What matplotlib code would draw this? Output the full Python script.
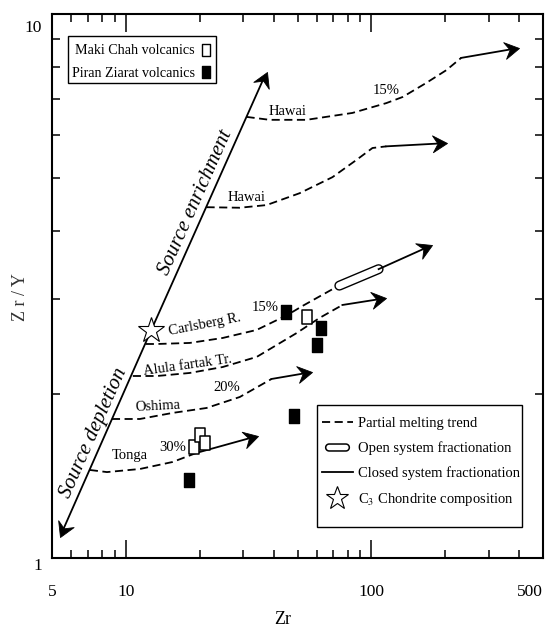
import numpy as np
import matplotlib.pyplot as plt
from matplotlib.lines import Line2D
from matplotlib.markers import MarkerStyle
from matplotlib.patches import Rectangle
from matplotlib.path import Path
from matplotlib.transforms import Affine2D, ScaledTranslation
from matplotlib.ticker import FixedLocator, NullFormatter

plt.rcParams['font.family'] = ['Liberation Serif', 'DejaVu Serif']
plt.rcParams['mathtext.fontset'] = 'stix'

# source line through the C3 chondrite composition
chondrite = (12.7, 2.63)
enrich_end = (37.4, 7.84)
deplete_end = (5.39, 1.094)

# partial melting trends (dashed part), then the arrow tip
hawai_hi_x = [31.0, 38.5, 54.4, 83.7, 115, 134, 167, 202, 232]
hawai_hi_y = [6.48, 6.40, 6.40, 6.59, 6.87, 7.05, 7.48, 7.90, 8.32]
hawai_hi_tip = (400, 8.68)

hawai_lo_x = [21.3, 29.1, 37.4, 51.0, 69.4, 86.9, 101, 115]
hawai_lo_y = [4.42, 4.41, 4.46, 4.69, 5.02, 5.40, 5.68, 5.72]
hawai_lo_tip = (204, 5.80)

carlsberg_x = [12.05, 13.4, 18.2, 24.8, 34.1, 45.5, 52.4, 72.0]
carlsberg_y = [2.476, 2.476, 2.487, 2.540, 2.628, 2.80, 2.909, 3.152]
open_frac = [(74.0, 3.17), (107, 3.40)]
carlsberg_tip = (177, 3.766)

alula_x = [10.67, 13.4, 18.2, 24.8, 34.1, 49.7, 61.4, 76.2]
alula_y = [2.162, 2.162, 2.190, 2.246, 2.344, 2.595, 2.764, 2.921]
alula_tip = (115, 3.008)

oshima_x = [8.77, 11.4, 15.5, 21.3, 29.1, 39.2]
oshima_y = [1.802, 1.802, 1.849, 1.888, 1.978, 2.135]
oshima_tip = (57.5, 2.199)

tonga_x = [7.13, 8.37, 11.4, 15.5, 19.4]
tonga_y = [1.452, 1.439, 1.458, 1.502, 1.561]
tonga_tip = (34.4, 1.677)

# samples
maki_zr = [18.9, 20.0, 20.9, 54.4]
maki_ratio = [1.600, 1.684, 1.628, 2.776]
piran_zr = [44.7, 62.6, 60.3, 48.2, 18.0]
piran_ratio = [2.836, 2.650, 2.466, 1.825, 1.391]

# trend labels: text, Zr, Zr/Y, rotation
trend_labels = [
    ('Hawai', 45.5, 6.62, 0),
    ('15%', 115, 7.26, 0),
    ('Hawai', 31.0, 4.60, 0),
    ('Carlsberg R.', 20.9, 2.684, 11),
    ('15%', 37.1, 2.884, 0),
    ('Alula fartak Tr.', 17.9, 2.265, 8),
    ('Oshima', 13.5, 1.904, 3),
    ('20%', 25.7, 2.055, 0),
    ('Tonga', 10.4, 1.547, 0),
    ('30%', 15.5, 1.600, 0),
]

dash = (0, (4.5, 2.5))
lw = 1.3

# barbed arrow head, tip at the origin pointing along +x
stealth = Path([(0, 0), (-1, 0.58), (-0.65, 0), (-1, -0.58), (0, 0)],
               [Path.MOVETO, Path.LINETO, Path.LINETO, Path.LINETO, Path.CLOSEPOLY])

fig = plt.figure(figsize=(5.48, 6.3), dpi=100)
ax = fig.add_axes([0.0949, 0.1143, 0.896, 0.8627])
ax.set_xscale('log')
ax.set_yscale('log')
ax.set_xlim(5, 500)
ax.set_ylim(1, 10)


def arrow(ax, start, tip):
    p0 = ax.transData.transform(start)
    p1 = ax.transData.transform(tip)
    d = (p1 - p0) / np.hypot(*(p1 - p0))
    ang = np.degrees(np.arctan2(d[1], d[0]))
    back = ax.transData.inverted().transform(p1 - d * 8)
    ax.plot([start[0], back[0]], [start[1], back[1]], color='k', lw=lw)
    head = MarkerStyle(stealth, transform=Affine2D().rotate_deg(ang))
    ax.plot(*tip, marker=head, ms=21, mfc='k', mec='k', mew=0.6, linestyle='none')


# source enrichment / depletion
arrow(ax, chondrite, enrich_end)
arrow(ax, chondrite, deplete_end)
ax.text(19.25, 4.50, 'Source enrichment', rotation=66, rotation_mode='anchor',
        ha='center', va='center', fontsize=15, style='italic')
ax.text(7.41, 1.698, 'Source depletion', rotation=66, rotation_mode='anchor',
        ha='center', va='center', fontsize=15, style='italic')

trends = [
    (hawai_hi_x, hawai_hi_y, hawai_hi_tip),
    (hawai_lo_x, hawai_lo_y, hawai_lo_tip),
    (alula_x, alula_y, alula_tip),
    (oshima_x, oshima_y, oshima_tip),
    (tonga_x, tonga_y, tonga_tip),
]
for tx, ty, tip in trends:
    ax.plot(tx, ty, color='k', lw=lw, linestyle=dash)
    arrow(ax, (tx[-1], ty[-1]), tip)

# Carlsberg trend passes through the open-system field
ax.plot(carlsberg_x, carlsberg_y, color='k', lw=lw, linestyle=dash)
fx, fy = zip(*open_frac)
ax.plot(fx, fy, color='k', lw=7.2, solid_capstyle='round')
ax.plot(fx, fy, color='white', lw=5.2, solid_capstyle='round')
arrow(ax, open_frac[-1], carlsberg_tip)

for text, x, y, rot in trend_labels:
    ax.text(x, y, text, fontsize=10.5, rotation=rot, rotation_mode='anchor',
            ha='center', va='center')

box = Path([(-0.36, -0.5), (0.36, -0.5), (0.36, 0.5), (-0.36, 0.5), (0, 0)],
           [Path.MOVETO, Path.LINETO, Path.LINETO, Path.LINETO, Path.CLOSEPOLY])

ax.plot(piran_zr, piran_ratio, linestyle='none', marker=box, ms=10,
        mfc='k', mec='k', mew=1)
ax.plot(maki_zr, maki_ratio, linestyle='none', marker=box, ms=10,
        mfc='white', mec='k', mew=1.1)
ax.plot(*chondrite, marker='*', ms=19, mfc='white', mec='k', mew=0.8,
        linestyle='none', zorder=5)

# legend frames drawn separately: tight at the sides, roomy top and bottom
for x0, y0, w, h in [(0.0326, 0.874, 0.3014, 0.0864),
                     (0.540, 0.057, 0.417, 0.2245)]:
    ax.add_patch(Rectangle((x0, y0), w, h, transform=ax.transAxes,
                           facecolor='white', edgecolor='k', lw=1.0, zorder=4.5))

# sample legend
sample_handles = [
    Line2D([], [], linestyle='none', marker=box, ms=8.5, mfc='white', mec='k', mew=1),
    Line2D([], [], linestyle='none', marker=box, ms=8.5, mfc='k', mec='k'),
]
leg1 = ax.legend(sample_handles, ['Maki Chah volcanics', 'Piran Ziarat volcanics'],
                 loc='center', bbox_to_anchor=(0.1823, 0.9126), borderaxespad=0,
                 markerfirst=False, handlelength=0.8, handletextpad=0.4,
                 borderpad=0, labelspacing=0.65, fontsize=10.1, frameon=False)
ax.add_artist(leg1)

# symbol legend
t = np.linspace(-np.pi / 2, np.pi / 2, 16)
right = np.column_stack([1.2 + 0.5 * np.cos(t), 0.5 * np.sin(t)])
left = np.column_stack([-1.2 - 0.5 * np.cos(t), -0.5 * np.sin(t)])
stadium = Path(np.vstack([right, left, right[:1]]), closed=True)

symbol_handles = [
    Line2D([], [], color='k', lw=lw, linestyle=dash),
    Line2D([], [], linestyle='none', marker=stadium, ms=17, mfc='white', mec='k', mew=1.1),
    Line2D([], [], color='k', lw=lw),
    Line2D([], [], linestyle='none', marker='*', ms=17, mfc='white', mec='k', mew=0.8),
]
symbol_labels = ['Partial melting trend', 'Open system fractionation',
                 'Closed system fractionation', 'C$_3$ Chondrite composition']
leg2 = ax.legend(symbol_handles, symbol_labels, loc='center',
                 bbox_to_anchor=(0.7515, 0.176), borderaxespad=0,
                 handlelength=2.1, handletextpad=0.35, borderpad=0,
                 labelspacing=0.75, fontsize=10.5, frameon=False)

# axes and ticks
ax.xaxis.set_major_locator(FixedLocator([5, 10, 100, 500]))
ax.set_xticklabels(['5', '10', '100', '500'])
ax.xaxis.set_minor_locator(FixedLocator([6, 7, 8, 9, 20, 30, 40, 50, 60, 70, 80, 90,
                                         200, 300, 400]))
ax.xaxis.set_minor_formatter(NullFormatter())
ax.yaxis.set_major_locator(FixedLocator([1, 10]))
ax.set_yticklabels(['1', '10'])
ax.yaxis.set_minor_locator(FixedLocator([2, 3, 4, 5, 6, 7, 8, 9]))
ax.yaxis.set_minor_formatter(NullFormatter())

ax.tick_params(which='both', direction='in', top=True, right=True, width=1.1,
               labelsize=12.5)
ax.tick_params(which='major', length=13)
ax.tick_params(which='minor', length=6)
ax.tick_params(axis='x', which='both', pad=19)
ax.tick_params(axis='y', which='both', pad=7)
ax.get_xticklabels()[-1].set_ha('right')
for lbl in ax.get_yticklabels():
    lbl.set_va('top')
top_lbl = ax.get_yticklabels()[-1]
top_lbl.set_transform(top_lbl.get_transform()
                      + ScaledTranslation(0, -0.06, fig.dpi_scale_trans))

for sp in ax.spines.values():
    sp.set_linewidth(1.5)

ax.set_xlabel('Zr', fontsize=13)
ax.xaxis.set_label_coords(0.47, -0.097)
ax.set_ylabel('Z r / Y', fontsize=13, color='#333333')
ax.yaxis.set_label_coords(-0.047, 0.48)

fig.savefig('out.png', dpi=100)
